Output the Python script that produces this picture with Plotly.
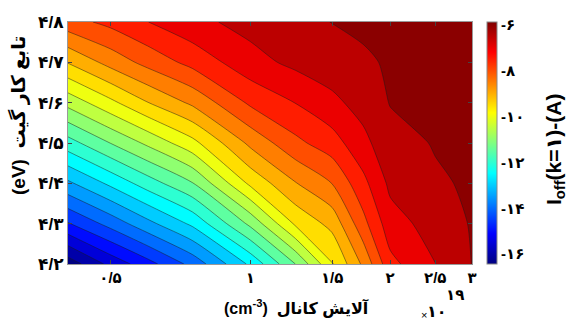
import math
import plotly.graph_objects as go

# ---------------- data ----------------
doping = [0.405, 0.5, 0.6, 0.75, 1.0, 1.25, 1.5, 1.75, 2.0, 2.5, 3.0]   # x 1e19 cm^-3
gate_wf = [4.2, 4.3, 4.4, 4.5, 4.6, 4.7, 4.8]                          # eV
ioff = [
    [-16.30, -15.35, -14.70, -13.84, -12.40, -11.00, -9.55, -8.40, -7.15, -6.51, -5.99],  # 4.2
    [-14.54, -13.82, -13.16, -12.40, -10.88, -9.42, -8.84, -7.66, -6.71, -6.29, -5.96],   # 4.3
    [-13.10, -12.39, -11.76, -11.03, -9.39, -8.53, -7.99, -7.14, -6.39, -6.06, -5.94],    # 4.4
    [-11.71, -10.99, -10.40, -9.66, -8.38, -7.63, -7.22, -6.64, -6.17, -5.97, -5.92],     # 4.5
    [-10.33, -9.63, -9.02, -8.40, -7.41, -6.99, -6.62, -6.31, -5.98, -5.95, -5.91],       # 4.6
    [-8.97, -8.32, -7.84, -7.34, -6.68, -6.38, -6.22, -6.04, -5.97, -5.93, -5.90],        # 4.7
    [-7.70, -7.36, -7.01, -6.64, -6.33, -6.14, -5.99, -5.95, -5.93, -5.91, -5.88],        # 4.8
]
x_tick_vals = [0.5, 1, 1.5, 2, 2.5, 3]
x_tick_text = ["۰/۵", "۱", "۱/۵", "۲", "۲/۵", "۳"]
y_tick_vals = [4.2, 4.3, 4.4, 4.5, 4.6, 4.7, 4.8]
y_tick_text = ["۴/۲", "۴/۳", "۴/۴", "۴/۵", "۴/۶", "۴/۷", "۴/۸"]
cb_tick_vals = [-16, -14, -12, -10, -8, -6]
cb_tick_text = ["-۱۶", "-۱۴", "-۱۲", "-۱۰", "-۸", "-۶"]

CMIN, CMAX = -16.43, -5.88
LSTART, LEND, LSIZE = -16.0, -6.0, 0.5

# ---------------- styling helpers ----------------
def jet(t):
    t = min(max(t, 0.0), 1.0)
    c = lambda v: min(max(v, 0.0), 1.0)
    r = c(1.5 - abs(4 * t - 3))
    g = c(1.5 - abs(4 * t - 2))
    b = c(1.5 - abs(4 * t - 1))
    return "rgb(%d,%d,%d)" % (round(r * 255), round(g * 255), round(b * 255))

N = 240
jet_scale = [[i / N, jet(i / N)] for i in range(N + 1)]

# contour fill: plotly evaluates each band at level + size/2 over [start-size/2, end+size/2];
# colour each band like MATLAB contourf (colour of the band's lower level)
lo = LSTART - LSIZE / 2
hi = LEND + LSIZE / 2
fill_scale = []
for i in range(N + 1):
    s = i / N
    v = lo + s * (hi - lo)
    fill_scale.append([s, jet((v - LSIZE / 2 - CMIN) / (CMAX - CMIN))])

logx = [math.log10(v) for v in doping]

FONT = "Liberation Sans, DejaVu Sans, Arial, sans-serif"

def px(xp, yp):
    """plot-pixel position -> paper fraction (plot area 68..472 x 22..264)"""
    return (xp - 68) / 404, (264 - yp) / 242

fig = go.Figure()
fig.add_trace(go.Contour(
    x=logx, y=gate_wf, z=ioff,
    autocontour=False,
    contours=dict(start=LSTART, end=LEND, size=LSIZE, coloring="fill"),
    colorscale=fill_scale,
    line=dict(color="rgba(25,25,25,0.8)", width=0.6, smoothing=0.7),
    showscale=False, hoverinfo="skip",
))
fig.add_trace(go.Scatter(
    x=[logx[4]], y=[gate_wf[3]], mode="markers", hoverinfo="skip", showlegend=False,
    marker=dict(size=1, opacity=0, color=[-10], colorscale=jet_scale, cmin=CMIN, cmax=CMAX,
                showscale=True,
                colorbar=dict(x=1.037, xanchor="left", y=0.5, yanchor="middle", len=1, lenmode="fraction",
                              ypad=0, xpad=0, thickness=10, outlinewidth=1, outlinecolor="#888",
                              ticks="", tickmode="array", tickvals=cb_tick_vals, ticktext=cb_tick_text,
                              tickfont=dict(family=FONT, size=15, color="black", weight="bold"))),
))

ann = []
def add_ann(text, xp, yp, size, angle=0):
    x, y = px(xp, yp)
    ann.append(dict(text=text, x=x, y=y, xref="paper", yref="paper", textangle=angle,
                    showarrow=False, font=dict(family=FONT, size=size),
                    xanchor="center", yanchor="middle"))

add_ann("<b>(cm<sup>-3</sup>)  آلایش کانال</b>", 296, 307, 16)
add_ann("×", 424, 315, 11)
add_ann("<b>۱۰</b>", 437, 311, 16)
add_ann("<b>۱۹</b>", 455, 294, 15)
add_ann("<b>(eV)  تابع کار گیت</b>", 18, 116, 19, -90)
add_ann("<b>I<sub>off</sub>(k=۱)-(A)</b>", 555, 149, 21, -90)

fig.update_layout(
    width=570, height=325,
    margin=dict(l=68, r=98, t=22, b=61),
    paper_bgcolor="white", plot_bgcolor="white",
    showlegend=False,
    font=dict(family=FONT, color="black"),
    xaxis=dict(range=[math.log10(0.405), math.log10(3.0)], tickmode="array",
               tickvals=[math.log10(v) for v in x_tick_vals], ticktext=x_tick_text,
               tickfont=dict(family=FONT, size=15, weight="bold"),
               showgrid=False, zeroline=False, showline=True, mirror="allticks",
               linecolor="#999", linewidth=1, ticks="inside", ticklen=4, tickcolor="#444"),
    yaxis=dict(range=[4.2, 4.8], tickmode="array", tickvals=y_tick_vals, ticktext=y_tick_text,
               tickfont=dict(family=FONT, size=17, weight="bold"),
               showgrid=False, zeroline=False, showline=True, mirror="allticks",
               linecolor="#999", linewidth=1, ticks="inside", ticklen=4, tickcolor="#444"),
    annotations=ann,
)

fig.write_html("out.html")
